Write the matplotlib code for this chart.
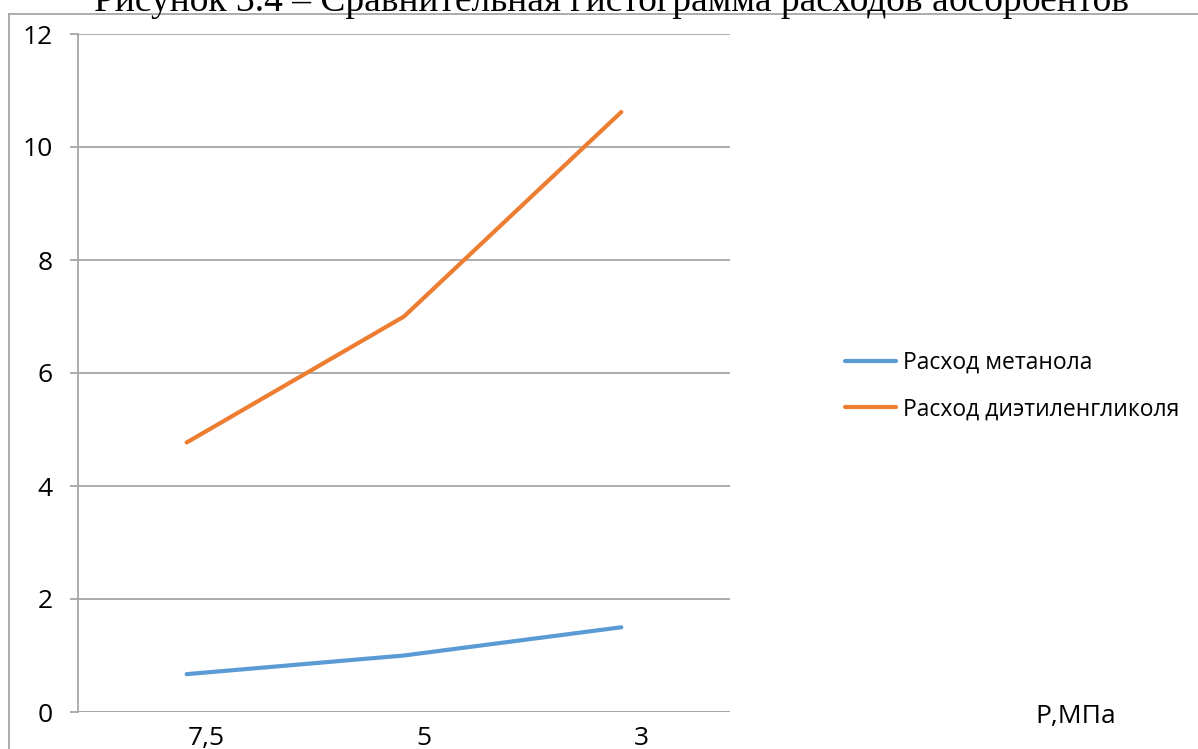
import matplotlib
matplotlib.use("Agg")
import matplotlib.pyplot as plt
from matplotlib.lines import Line2D
from matplotlib.transforms import ScaledTranslation

# Pressure categories (MPa) and absorbent consumption series
pressure_labels = ["7,5", "5", "3"]
methanol = [0.67, 1.0, 1.5]
diethylene_glycol = [4.77, 7.0, 10.62]
y_ticks = [0, 2, 4, 6, 8, 10, 12]

W, H, DPI = 1198, 749, 100
fig = plt.figure(figsize=(W / DPI, H / DPI), dpi=DPI)
fig.patch.set_facecolor("white")

sans = ["Open Sans", "DejaVu Sans"]
grid_col = "#a6a6a6"

ax = fig.add_axes([78 / W, 1 - 712 / H, (730 - 78) / W, (712 - 34) / H])
x = list(range(len(pressure_labels)))
ax.plot(x, methanol, color="#5B9BD5", lw=3, solid_capstyle="round",
        label="Расход метанола")
ax.plot(x, diethylene_glycol, color="#ED7D31", lw=3, solid_capstyle="round",
        label="Расход диэтиленгликоля")

ax.set_xlim(-0.5, len(pressure_labels) - 0.5)
ax.set_ylim(0, 12)
ax.set_yticks(y_ticks)
ax.set_yticklabels([str(v) for v in y_ticks], fontfamily=sans, fontsize=19)
ax.set_xticks(x)
ax.set_xticklabels(pressure_labels, fontfamily=sans, fontsize=19)

for s in ["top", "right", "bottom"]:
    ax.spines[s].set_visible(False)
ax.spines["left"].set_color(grid_col)
ax.spines["left"].set_linewidth(1.3)
ax.grid(axis="y", color=grid_col, lw=1.3)
ax.set_axisbelow(True)
ax.tick_params(axis="y", length=6, width=1.3, color=grid_col, pad=12)
ax.tick_params(axis="x", length=0, pad=10)
# horizontal baseline
ax.axhline(0, color=grid_col, lw=1.3, zorder=0.5)

# category labels sit a little right of their points
shift = ScaledTranslation(20 / DPI, 0, fig.dpi_scale_trans)
for lbl in ax.get_xticklabels():
    lbl.set_transform(lbl.get_transform() + shift)

# legend
leg = fig.legend(loc="center left", bbox_to_anchor=(824 / W, 1 - 386 / H),
                 frameon=False, prop={"family": sans, "size": 16.5},
                 handlelength=2.25, handletextpad=0.3, labelspacing=1.0)

# axis caption
fig.text(1035 / W, 1 - 717 / H, "Р,МПа", fontfamily=sans, fontsize=19,
         ha="left", va="center")

# outer frame (left and top edges)
fig.add_artist(Line2D([8.5 / W, 8.5 / W], [0, 1 - 14 / H], transform=fig.transFigure,
                      color=grid_col, lw=1.3))
fig.add_artist(Line2D([8.5 / W, 1], [1 - 14 / H, 1 - 14 / H], transform=fig.transFigure,
                      color=grid_col, lw=1.3))

# figure caption above the frame
fig.text(612 / W, 1 - 11 / H,
         "Рисунок 3.4 – Сравнительная гистограмма расходов абсорбентов",
         fontfamily=["Liberation Serif", "DejaVu Serif"], fontsize=27,
         ha="center", va="baseline")

fig.savefig("out.png", dpi=DPI)
